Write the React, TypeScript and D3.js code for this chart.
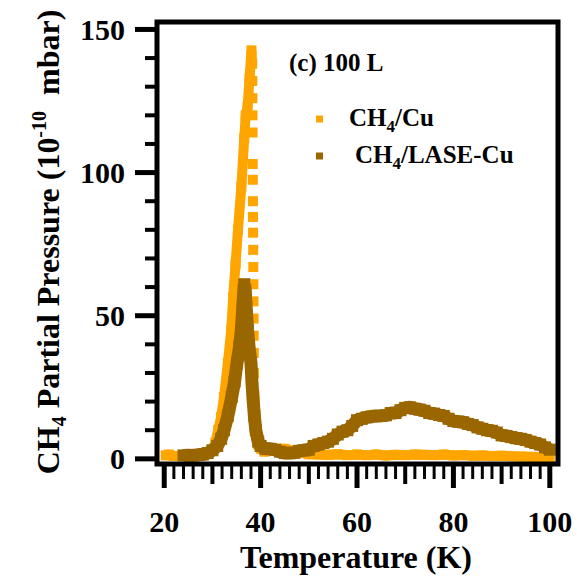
import React, { useEffect, useRef } from 'react';
import * as d3 from 'd3';

// CH4/Cu (orange) readings: temperature (K) and partial pressure (1e-10 mbar)
const cuTemp = [
  20.3, 21, 22, 23, 24, 25, 26, 27, 28, 29, 30, 30.6, 31.2, 31.8, 32.4, 33.2, 33.9, 34.3, 34.8, 35.3,
  36.0, 36.6, 36.9, 37.3, 37.7, 38.1, 38.25, 38.27, 38.29, 38.31, 38.33, 38.36, 38.38, 38.4, 38.42,
  38.44, 38.46, 38.48, 38.5, 38.52, 38.54, 38.56, 38.58, 38.62, 38.7, 38.85, 39.1, 39.5, 40.1, 40.8,
  42, 43, 44, 45, 46, 47, 48, 49, 50, 52, 54, 56, 58, 60, 62, 64, 66, 68, 70, 72, 74, 76, 78, 80,
  82, 84, 86, 88, 90, 92, 94, 96, 98, 100,
];
const cuPressure = [
  1.2, 1.5, 1, 1, 1, 1, 1.2, 1.5, 2, 2.2, 3.1, 5.6, 10.1, 14.6, 21.6, 33.5, 45, 56.5, 68, 80,
  95, 112, 120, 123, 133, 142.7, 138, 132, 126, 120, 114, 103, 97.5, 90, 84.5,
  79, 73, 67, 61, 55, 49, 43, 37, 30, 22, 14, 8, 5, 3.5, 2.5,
  3, 3.2, 3.5, 3.5, 3, 2.5, 2.2, 2, 1.6, 1.5, 1.4, 1.6, 1.3, 1.5, 1.3, 1.5, 1.2, 1.4, 1.3, 1.5, 1.4, 1.3, 1.5, 1.2,
  1.3, 1.1, 1.2, 1.0, 1.1, 0.9, 0.8, 0.7, 0.6, 0.5,
];

// CH4/LASE-Cu (brown) readings
const laseTemp = [
  24, 25, 26, 27, 28, 29, 30, 31, 31.8, 32.4, 33.2, 34, 34.6, 35.1, 35.6, 36, 36.3, 36.6, 36.8, 37,
  37.3, 37.6, 38, 38.2, 38.4, 38.7, 39, 39.5, 40, 41, 42, 43, 44, 45, 46, 47, 48, 49, 50, 51, 52, 53,
  54, 55, 56, 57, 58, 59, 60, 61, 62, 63, 64, 65, 66, 67, 68, 69, 70, 71, 72, 73, 74, 75, 76, 77, 78,
  79, 80, 81, 82, 83, 84, 85, 86, 87, 88, 89, 90, 91, 92, 93, 94, 95, 96, 97, 98, 99, 100,
];
const lasePressure = [
  1.2, 1.3, 1.2, 1.4, 1.5, 2.0, 3.0, 4.5, 7, 10, 15, 21.6, 27, 33.5, 39, 45, 53, 61, 59, 53,
  45, 39, 33.5, 27, 21.6, 15, 10, 6, 4.5, 3.5, 3.5, 3.2, 2.5, 2, 2, 2.1, 2.8, 3, 3.2, 4.5, 5, 5.5,
  6, 7, 8.5, 9.5, 10, 11.5, 13.5, 14, 14.5, 14.8, 15, 15, 15.2, 16, 16, 17, 17.8, 18, 17.5, 17.2, 16.8, 16, 15.8, 15.3, 15,
  14, 13.2, 13, 12.8, 12.2, 11.8, 11, 10.5, 10, 9.8, 9.2, 8.2, 8, 7.6, 7.2, 7, 6.6, 6, 5.5, 5, 4, 3.2,
];

const xTickLabels = [20, 40, 60, 80, 100];
const yTickLabels = [0, 50, 100, 150];

const ORANGE = '#FFA500';
const BROWN = '#996600';
const FONT = '"Liberation Serif", "Times New Roman", serif';

const App: React.FC = () => {
  const svgRef = useRef<SVGSVGElement>(null);

  useEffect(() => {
    if (!svgRef.current) return;
    const svg = d3.select(svgRef.current);
    svg.selectAll('*').remove();

    const left = 157, right = 558, top = 22, bottom = 464;
    const x = d3.scaleLinear().domain([18.5, 101.7]).range([left, right]);
    const y = d3.scaleLinear().domain([-1.8, 152.6]).range([bottom, top]);

    svg.append('clipPath').attr('id', 'plot-clip')
      .append('rect')
      .attr('x', left).attr('y', top)
      .attr('width', right - left).attr('height', bottom - top);

    const plot = svg.append('g').attr('clip-path', 'url(#plot-clip)');

    // markers joined by a thick line; nearly vertical jumps stay as separate squares
    const drawSeries = (temps: number[], vals: number[], color: string, size: number, lineW: number) => {
      const pts: [number, number][] = temps.map((t, i) => [x(t), y(vals[i])]);
      const runs: [number, number][][] = [[pts[0]]];
      for (let i = 1; i < pts.length; i++) {
        if (pts[i][0] - pts[i - 1][0] < 0.5) runs.push([pts[i]]);
        else runs[runs.length - 1].push(pts[i]);
      }
      runs.filter(r => r.length > 1).forEach(r => {
        plot.append('path')
          .attr('d', d3.line()(r) as string)
          .attr('fill', 'none')
          .attr('stroke', color)
          .attr('stroke-width', lineW)
          .attr('stroke-linejoin', 'bevel');
      });
      plot.append('g')
        .selectAll('rect')
        .data(pts)
        .join('rect')
        .attr('x', d => d[0] - size / 2)
        .attr('y', d => d[1] - size / 2)
        .attr('width', size)
        .attr('height', size)
        .attr('fill', color);
    };

    drawSeries(cuTemp, cuPressure, ORANGE, 10, 10);
    drawSeries(laseTemp, lasePressure, BROWN, 12, 13);

    // frame
    svg.append('rect')
      .attr('x', left).attr('y', top)
      .attr('width', right - left).attr('height', bottom - top)
      .attr('fill', 'none')
      .attr('stroke', '#000')
      .attr('stroke-width', 5);

    // y ticks
    d3.range(0, 151, 10).forEach(v => {
      const major = v % 50 === 0;
      svg.append('line')
        .attr('x1', major ? 135 : 145).attr('x2', left)
        .attr('y1', y(v)).attr('y2', y(v))
        .attr('stroke', '#000')
        .attr('stroke-width', major ? 5 : 4);
    });
    yTickLabels.forEach(v => {
      svg.append('text')
        .attr('x', 125).attr('y', y(v)).attr('dy', '0.35em')
        .attr('text-anchor', 'end')
        .style('font-family', FONT).style('font-weight', 'bold').style('font-size', '30px')
        .text(v);
    });

    // x ticks
    d3.range(20, 101, 2).forEach(t => {
      const major = t % 20 === 0;
      const mid = !major && t % 10 === 0;
      svg.append('line')
        .attr('x1', x(t)).attr('x2', x(t))
        .attr('y1', bottom).attr('y2', major ? 488 : mid ? 484 : 479)
        .attr('stroke', '#000')
        .attr('stroke-width', major ? 5 : mid ? 4 : 3);
    });
    xTickLabels.forEach(t => {
      svg.append('text')
        .attr('x', x(t)).attr('y', 532)
        .attr('text-anchor', 'middle')
        .style('font-family', FONT).style('font-weight', 'bold').style('font-size', '30px')
        .text(t);
    });

    // axis titles
    svg.append('text')
      .attr('x', 356).attr('y', 568)
      .attr('text-anchor', 'middle')
      .style('font-family', FONT).style('font-weight', 'bold').style('font-size', '32px')
      .text('Temperature (K)');

    const yt = svg.append('text')
      .attr('transform', 'translate(59,242) rotate(-90)')
      .attr('text-anchor', 'middle')
      .style('font-family', FONT).style('font-weight', 'bold').style('font-size', '32px')
      .style('white-space', 'pre');
    yt.append('tspan').text('CH');
    yt.append('tspan').attr('dy', 7).style('font-size', '20px').text('4');
    yt.append('tspan').attr('dy', -7).text(' Partial Pressure (10');
    yt.append('tspan').attr('dy', -13).style('font-size', '20px').text('-10');
    yt.append('tspan').attr('dy', 13).text('  mbar)');

    // annotation + legend
    const txt = (xx: number, yy: number, size: number) =>
      svg.append('text')
        .attr('x', xx).attr('y', yy)
        .style('font-family', FONT).style('font-weight', 'bold').style('font-size', `${size}px`)
        .style('white-space', 'pre');

    txt(289, 71, 25).text('(c) 100 L');

    const legend = [
      { label: '/Cu', color: ORANGE, tx: 349, cy: 119 },
      { label: '/LASE-Cu', color: BROWN, tx: 355, cy: 156 },
    ];
    legend.forEach(l => {
      svg.append('rect')
        .attr('x', 316).attr('y', l.cy - 3.5)
        .attr('width', 7).attr('height', 7)
        .attr('fill', l.color);
      const t = txt(l.tx, l.cy + 7, 25);
      t.append('tspan').text('CH');
      t.append('tspan').attr('dy', 6).style('font-size', '17px').text('4');
      t.append('tspan').attr('dy', -6).text(l.label);
    });
  }, []);

  return (
    <svg
      ref={svgRef}
      width={577}
      height={576}
      style={{ position: 'absolute', left: 0, top: 0, background: '#fff' }}
    />
  );
};

export default App;
